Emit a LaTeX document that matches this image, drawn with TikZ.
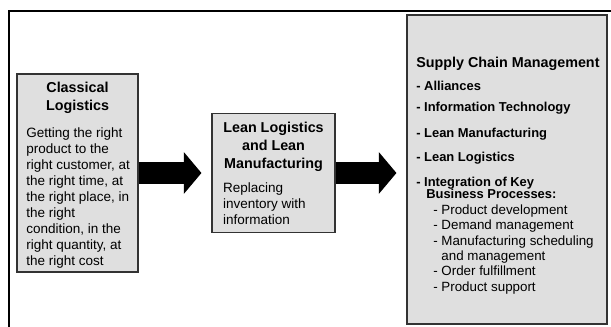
\documentclass[tikz,border=0pt]{standalone}
\usepackage{fontspec}
\setmainfont{Liberation Sans}
\usetikzlibrary{positioning,arrows.meta}

\begin{document}
\begin{tikzpicture}[
        box/.style={draw=black!80, line width=1pt, fill=gray!25, inner sep=0pt},
        head/.style={font=\fontsize{10.2}{12.6}\selectfont\bfseries, align=center, inner sep=0pt},
        body/.style={font=\fontsize{9.6}{11.4}\selectfont, align=left, inner sep=0pt},
        item/.style={font=\fontsize{9.2}{11}\selectfont\bfseries, inner sep=0pt, anchor=base west},
        subitem/.style={font=\fontsize{9.5}{11}\selectfont, inner sep=0pt, anchor=base west},
        bigarrow/.style={line width=15pt, -{Triangle[length=12.5pt,width=29pt]}, shorten >=7pt}]
        \useasboundingbox (0,0) rectangle (15.275,8.175);
        \draw[line width=1pt] (0.225,0) -- (0.225,7.9) -- (15.275,7.9);
        % the three stages
        \node[box, minimum width=3.025cm, minimum height=4.95cm] (classic) at (1.9375,3.85) {};
        \node[box, minimum width=3.075cm, minimum height=2.975cm] (lean) at (6.8375,3.85) {};
        \node[box, minimum width=5cm, minimum height=7.725cm] (scm) at (12.675,3.9375) {};
        \node[head, anchor=north] (classichead) at (1.9375,6.125) {Classical\\Logistics};
        \node[body, anchor=north west] (classicbody) at (0.65,5.0) {Getting the right\\product to the\\right customer, at\\the right time, at\\the right place, in\\the right\\condition, in the\\right quantity, at\\the right cost};
        \node[head, anchor=north] (leanhead) at (6.8375,5.12) {Lean Logistics\\and Lean\\Manufacturing};
        \node[body, anchor=north west] (leanbody) at (5.57,3.61) {Replacing\\inventory with\\information};
        % list in the last box
        \node[head, anchor=base west] (scmhead) at (10.4,6.49) {Supply Chain Management};
        \node[item] (alliances) at (10.4,5.91) {- Alliances};
        \node[item] (infotech) at (10.4,5.39) {- Information Technology};
        \node[item] (leanmfg) at (10.4,4.74) {- Lean Manufacturing};
        \node[item] (leanlog) at (10.4,4.14) {- Lean Logistics};
        \node[item] (integration) at (10.4,3.51) {- Integration of Key};
        \node[item] (processes) at (10.65,3.21) {Business Processes:};
        \node[subitem] (proddev) at (10.825,2.81) {- Product development};
        \node[subitem] (demand) at (10.825,2.44) {- Demand management};
        \node[subitem] (scheduling) at (10.825,2.04) {- Manufacturing scheduling};
        \node[subitem] (schedmgmt) at (11.03,1.66) {and management};
        \node[subitem] (orders) at (10.825,1.28) {- Order fulfillment};
        \node[subitem] (support) at (10.825,0.88) {- Product support};
        % block arrows between the stages
        \draw[bigarrow] (classic.east) -- (lean.west);
        \draw[bigarrow] (lean.east) -- (lean.east -| scm.west);
    \end{tikzpicture}
\end{document}
